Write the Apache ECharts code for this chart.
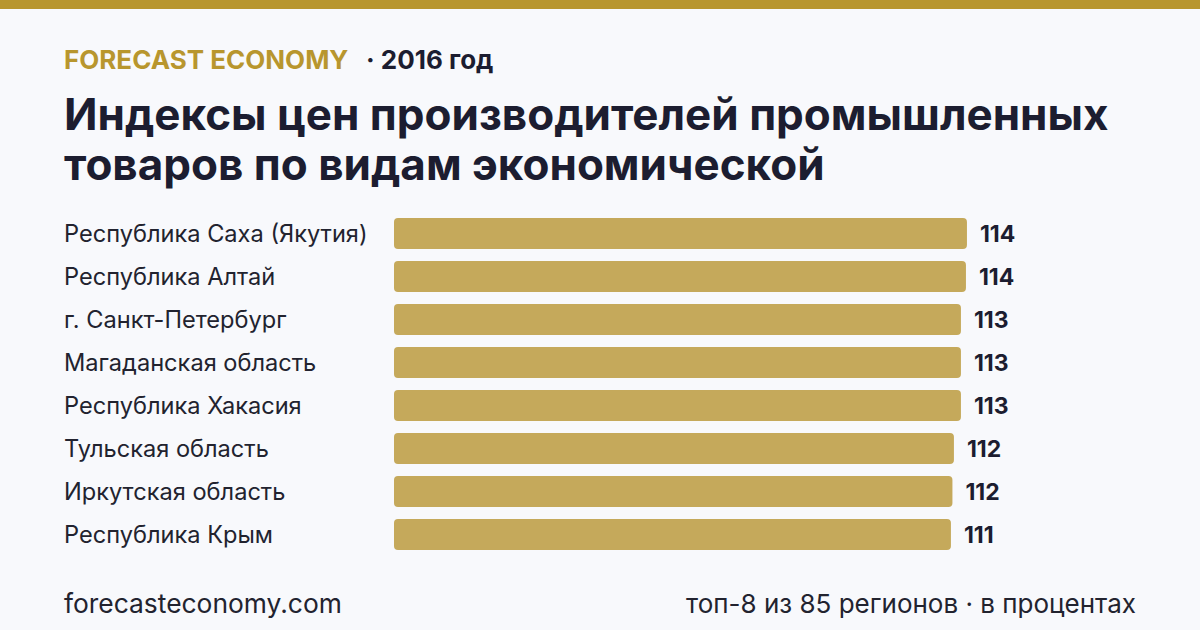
<!DOCTYPE html>
<html>
<head>
<meta charset="utf-8">
<script src="https://cdn.jsdelivr.net/npm/echarts@6/dist/echarts.min.js"></script>
<style>
  html, body { margin: 0; padding: 0; background: #f8f9fc; }
  #chart { width: 1200px; height: 630px; }
</style>
</head>
<body>
<div id="chart"></div>
<script>
const regions = [
    'Республика Саха (Якутия)',
    'Республика Алтай',
    'г. Санкт-Петербург',
    'Магаданская область',
    'Республика Хакасия',
    'Тульская область',
    'Иркутская область',
    'Республика Крым'
];
// индекс, % (значения оценены по длине столбцов)
const values = [114.4, 114.2, 113.2, 113.2, 113.2, 111.8, 111.5, 111.2];

const gold = '#b8962e';
const barColor = '#c5a95b';
const dark = '#1c1d30';
const font = 'Inter, "Noto Sans", sans-serif';

const chart = echarts.init(document.getElementById('chart'), null, { renderer: 'svg' });

chart.setOption({
    backgroundColor: '#f8f9fc',
    animation: false,
    grid: { left: 394, top: 212, width: 601, height: 344 },
    xAxis: {
        type: 'value',
        min: 0,
        max: 120,
        show: false
    },
    yAxis: {
        type: 'category',
        data: regions,
        inverse: true,
        axisLine: { show: false },
        axisTick: { show: false },
        splitLine: { show: false },
        axisLabel: {
            align: 'left',
            margin: 330,
            color: '#22232f',
            fontFamily: font,
            fontSize: 23.6,
            padding: [4, 0, 0, 0]
        }
    },
    series: [
        {
            type: 'bar',
            data: values,
            barWidth: 31,
            itemStyle: { color: barColor, borderRadius: 4 },
            label: {
                show: true,
                position: 'right',
                distance: 13,
                color: dark,
                fontFamily: font,
                fontWeight: 'bold',
                fontSize: 23,
                padding: [4, 0, 0, 0],
                formatter: p => Math.round(p.value)
            }
        }
    ],
    graphic: [
        { type: 'rect', left: 0, top: 0, shape: { width: 1200, height: 9 }, style: { fill: gold } },
        {
            type: 'text', left: 64, top: 46,
            style: { text: 'FORECAST ECONOMY', fill: gold, font: 'bold 26px ' + font }
        },
        {
            type: 'text', left: 366, top: 46,
            style: { text: '· 2016 год', fill: dark, font: 'bold 26px ' + font }
        },
        {
            type: 'text', left: 64, top: 89,
            style: {
                text: 'Индексы цен производителей промышленных\nтоваров по видам экономической',
                fill: dark,
                font: 'bold 44px ' + font,
                lineHeight: 50
            }
        },
        {
            type: 'text', left: 64, top: 590,
            style: { text: 'forecasteconomy.com', fill: '#22232f', font: '26.4px ' + font }
        },
        {
            type: 'text', right: 64, top: 590,
            style: { text: 'топ-8 из 85 регионов · в процентах', fill: '#22232f', font: '26px ' + font }
        }
    ]
});
</script>
</body>
</html>
